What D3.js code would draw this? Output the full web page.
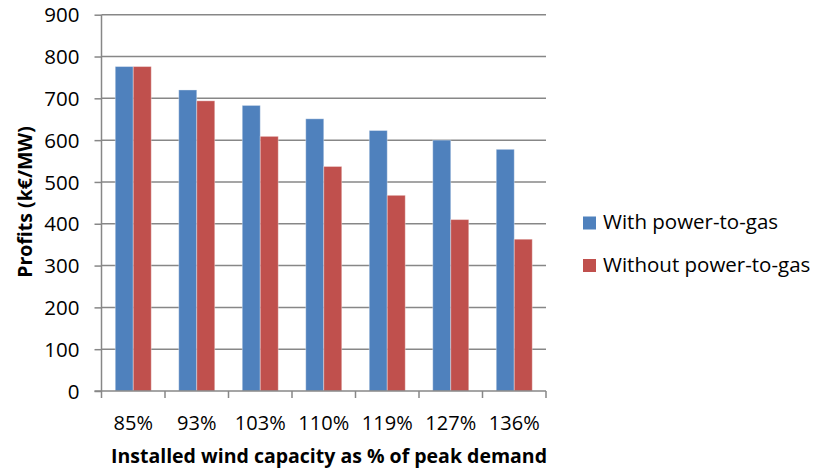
<!DOCTYPE html>
<html>
<head>
<meta charset="utf-8">
<script src="https://cdn.jsdelivr.net/npm/d3@7"></script>
<style>
  html, body { margin: 0; padding: 0; background: #fff; }
  svg { display: block; font-family: "Open Sans", sans-serif; }
</style>
</head>
<body>
<svg id="chart" width="816" height="471"></svg>
<script>
const categories = ["85%", "93%", "103%", "110%", "119%", "127%", "136%"];
const seriesNames = ["With power-to-gas", "Without power-to-gas"];
const withP2G = [776, 720, 683, 651, 623, 600, 578];
const withoutP2G = [776, 694, 609, 537, 468, 410, 363];
const yTicks = [0, 100, 200, 300, 400, 500, 600, 700, 800, 900];
const colors = ["#4F81BD", "#C0504D"];

const svg = d3.select("#chart");
const margin = { left: 101.5, right: 816 - 546, top: 14.7, bottom: 471 - 391 };
const W = 816, H = 471;
const x0 = d3.scaleBand().domain(categories).range([margin.left, W - margin.right]).padding(0);
const x1 = d3.scaleBand().domain(seriesNames).range([0, 36]);
const bandOffset = (x0.bandwidth() - 36) / 2;
const y = d3.scaleLinear().domain([0, 900]).range([H - margin.bottom, margin.top]);

const grid = "#878787";

// gridlines
svg.append("g").selectAll("line").data(yTicks.filter(d => d > 0)).join("line")
  .attr("x1", margin.left).attr("x2", W - margin.right)
  .attr("y1", d => y(d)).attr("y2", d => y(d))
  .attr("stroke", grid).attr("stroke-width", 1.5);

// bars
const series = [withP2G, withoutP2G];
const g = svg.append("g");
categories.forEach((c, i) => {
  series.forEach((vals, s) => {
    g.append("rect")
      .attr("x", x0(c) + bandOffset + x1(seriesNames[s]))
      .attr("y", y(vals[i]))
      .attr("width", x1.bandwidth())
      .attr("height", y(0) - y(vals[i]))
      .attr("fill", colors[s])
      .attr("stroke", "#ffffff").attr("stroke-opacity", 0.35).attr("stroke-width", 1);
  });
});

// y axis
const yAxis = d3.axisLeft(y).tickValues(yTicks).tickSize(7).tickPadding(15);
const ya = svg.append("g").attr("transform", `translate(${margin.left},0)`).call(yAxis);
ya.select(".domain").attr("stroke", grid).attr("stroke-width", 1.5).attr("d", `M0,${y(0)}V${y(900)}`);
ya.selectAll(".tick line").attr("stroke", grid).attr("stroke-width", 1.5);
ya.selectAll(".tick text").attr("font-size", 20.5).attr("font-family", "Open Sans").attr("fill", "#000").attr("dy", "0.35em");

// x axis
const xa = svg.append("g").attr("transform", `translate(0,${y(0)})`);
xa.append("line").attr("x1", margin.left - 7).attr("x2", W - margin.right)
  .attr("stroke", grid).attr("stroke-width", 1.5);
const bounds = categories.map(c => x0(c)).concat([x0(categories[categories.length - 1]) + x0.bandwidth()]);
xa.selectAll(".xt").data(bounds).join("line").attr("class", "xt")
  .attr("x1", d => d).attr("x2", d => d).attr("y1", 0).attr("y2", 7)
  .attr("stroke", grid).attr("stroke-width", 1.5);
xa.selectAll(".xl").data(categories).join("text").attr("class", "xl")
  .attr("x", d => x0(d) + x0.bandwidth() / 2).attr("y", 38.5)
  .attr("text-anchor", "middle").attr("font-size", 20).attr("fill", "#000").text(d => d);

// axis titles
svg.append("text").attr("x", 329).attr("y", 463).attr("text-anchor", "middle")
  .attr("font-size", 19.5).attr("font-weight", "bold").attr("fill", "#000")
  .text("Installed wind capacity as % of peak demand");
svg.append("text").attr("transform", "translate(32,202) rotate(-90)").attr("text-anchor", "middle")
  .attr("font-size", 19.5).attr("font-weight", "bold").attr("fill", "#000")
  .text("Profits (k€/MW)");

// legend
const lg = svg.append("g");
seriesNames.forEach((n, i) => {
  const yy = 216.5 + i * 42.5;
  lg.append("rect").attr("x", 583).attr("y", yy).attr("width", 13).attr("height", 13).attr("fill", colors[i]);
  lg.append("text").attr("x", 603).attr("y", yy + 12.5).attr("font-size", 20.5).attr("fill", "#000").text(n);
});
</script>
</body>
</html>
